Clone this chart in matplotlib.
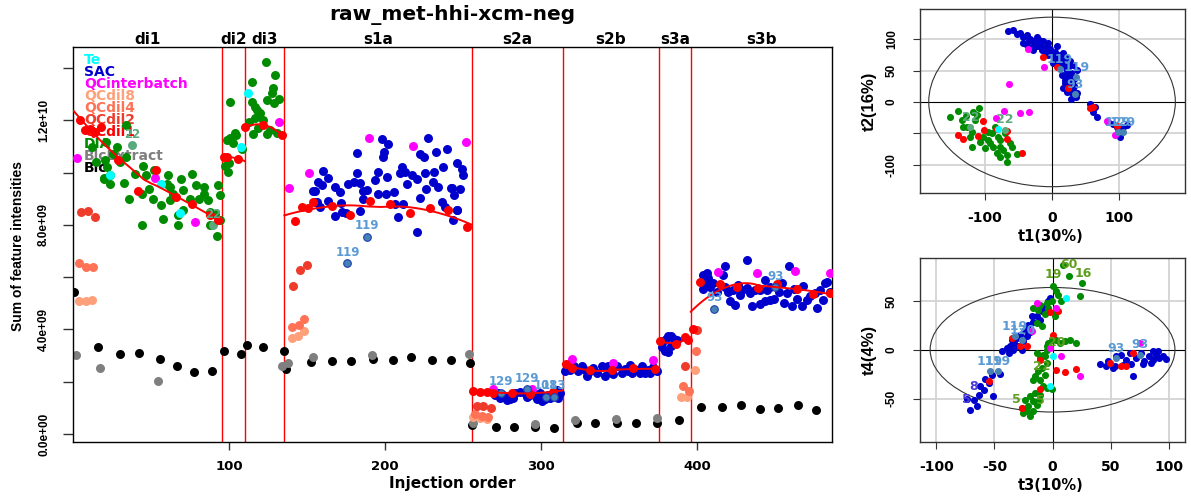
"""
Injection-order plot of summed feature intensities with two PCA score plots.
"""
import numpy as np
import matplotlib.pyplot as plt
from matplotlib.patches import Ellipse
from matplotlib.transforms import blended_transform_factory

plt.rcParams['font.family'] = ['DejaVu Sans']
plt.rcParams['font.weight'] = 'bold'
ROT_FONT = ['Liberation Sans', 'DejaVu Sans']

TITLE = 'raw_met-hhi-xcm-neg'

# batches (names and injection-order boundaries)
batch_names = ['di1', 'di2', 'di3', 's1a', 's2a', 's2b', 's3a', 's3b']
batch_edges = [0.5, 95.5, 110, 135.5, 255.5, 314, 375.5, 396, 486.5]

# sample classes, legend order
classes = ['Te', 'SAC', 'QCinterbatch', 'QCdil8', 'QCdil4', 'QCdil2', 'QCdil1', 'DIA', 'BlcExtract', 'Blc']
class_colors = ['#00FFFF', '#0000CD', '#FF00FF', '#FFA07A', '#FF7256', '#EE3B2B', '#FF0000', '#008B00', '#7F7F7F', '#000000']
labeled_color = '#4682B4'
labeled_text = '#5B9BD5'
dia_label_color = '#5AAA7D'

# ---- main plot: (injection order, sum of intensities in 1e9) ----
blc = [(0.6, 5.42), (16.2, 3.34), (30.1, 3.07), (42.5, 3.10), (55.8, 2.85), (66.5, 2.58), (77.6, 2.35),
       (89.3, 2.40), (96.6, 3.17), (107.5, 3.07), (111.8, 3.39), (122, 3.34), (135.4, 3.19), (136.3, 2.50),
       (152.3, 2.74), (166.2, 2.78), (178.2, 2.78), (192.5, 2.87), (204.9, 2.82), (216.5, 2.93), (230, 2.83),
       (242.1, 2.83), (254.5, 2.73), (255.6, 0.34), (270.9, 0.26), (282.7, 0.26), (296.4, 0.26), (308.3, 0.22),
       (322.9, 0.43), (334.8, 0.43), (348.7, 0.41), (360.7, 0.43), (374.6, 0.43), (388.7, 0.55), (402.3, 1.02),
       (416, 1.02), (428, 1.11), (440.4, 0.96), (452.1, 0.98), (465, 1.11), (476, 0.92)]
blc_extract = [(1.9, 3.01), (17.5, 2.53), (54.3, 2.03), (133.8, 2.59), (138, 2.70), (153.6, 2.94), (191.9, 3.02),
               (254, 3.06), (256.2, 0.43), (296.2, 0.36), (321.8, 0.55), (348.1, 0.57), (374.1, 0.60)]
dia = [(34.2, 11.84), (28, 10.98), (21.4, 11.17), (25.6, 10.73), (20.3, 10.47), (34.2, 10.6), (30, 10.41),
       (45, 10.25), (52, 10.11), (22, 10.2), (20, 9.77), (23.5, 9.58), (39.5, 9.96), (47, 9.9), (61, 9.9),
       (76, 9.96), (69, 9.77), (49, 9.39), (44, 9.2), (51, 9.0), (60, 9.58), (62, 9.45), (64, 9.2), (70.5, 9.32),
       (79, 9.51), (84, 9.45), (84, 9.2), (81, 9.0), (75, 9.0), (62, 8.94), (56.6, 8.75), (36, 9.0), (58, 8.24),
       (67, 8.37), (70.5, 8.56), (87.6, 8.5), (94, 8.17), (92, 7.56), (44, 7.98), (67, 7.98), (93, 9.51),
       (94, 9.13), (86.5, 8.94), (15, 10.4), (12, 11.0), (24, 9.9), (19.6, 9.8), (33, 9.6), (88, 8.0), (91, 8.4),
       (100.6, 12.71), (103.8, 11.52), (100.6, 11.33), (98.7, 11.25), (102.6, 11.14), (108.5, 10.91),
       (100, 10.37), (99.4, 10.03), (97.2, 10.24), (104.5, 11.45),
       (123.5, 14.24), (129.5, 13.73), (114.5, 13.47), (128.4, 13.26), (127.4, 13.04), (114.5, 12.72),
       (132.3, 12.81), (124.2, 12.79), (128.8, 12.66), (117.8, 12.40), (119.9, 12.28), (116.7, 12.08),
       (122, 12.02), (115.6, 11.48), (124.2, 11.48), (130.6, 11.53), (118.8, 11.70), (126.3, 11.64),
       (116.7, 12.53), (113, 11.95)]
dia_labeled = [(38, 11.05, '22'), (90, 7.98, '22')]
sac = [(197.9, 11.28), (202.1, 11.10), (227.8, 11.34), (181.8, 10.74), (199.4, 10.81), (198.5, 10.61),
       (222.4, 10.72), (225, 10.61), (232.7, 10.81), (239.5, 10.89), (246, 10.38), (249.2, 10.13),
       (250.2, 9.91), (160.5, 10.08), (182.3, 10.0), (195.7, 10.03), (210.7, 10.21), (212.8, 10.04),
       (209.6, 9.98), (217.1, 9.91), (220.3, 9.75), (225.7, 9.98), (231.4, 10.04), (237.4, 10.21),
       (201.5, 9.82), (193.6, 9.72), (157.3, 9.66), (163.7, 9.78), (159.4, 9.53), (155.1, 9.31), (168, 9.44),
       (171.2, 9.27), (176.5, 9.57), (180.1, 9.66), (184, 9.62), (186.1, 9.31), (188.3, 9.34), (195.7, 9.18),
       (200.7, 9.18), (205.8, 9.27), (214.3, 9.57), (226.3, 9.38), (231, 9.66), (234.2, 9.47), (242.7, 9.40),
       (248.1, 9.36), (244.2, 9.15), (222.4, 9.02), (236.3, 8.89), (186.1, 8.98), (171.6, 8.85),
       (163.7, 8.93), (156.6, 8.89), (158.3, 8.70), (206.4, 8.80), (211.8, 8.80), (238.5, 8.67), (246, 8.57),
       (184, 8.55), (168, 8.34), (172.2, 8.51), (175, 8.44), (208.6, 8.29), (243.8, 8.19), (220.3, 7.73),
       (246.4, 8.57), (242.1, 9.4), (154, 9.31), (155.1, 8.89),
       (270.5, 1.49), (273.7, 1.37), (276.9, 1.41), (280.2, 1.33), (283.4, 1.58), (286.6, 1.62), (289.8, 1.56),
       (293, 1.49), (296.2, 1.53), (298.3, 1.43), (300.5, 1.24), (302.6, 1.33), (304.7, 1.49), (307.9, 1.56),
       (310, 1.69), (312.2, 1.58), (278, 1.28), (282.3, 1.37), (297.2, 1.33), (301.5, 1.37), (305.8, 1.37),
       (311.1, 1.37), (272.7, 1.56), (290.8, 1.41), (299.4, 1.56), (275.9, 1.49),
       (315.5, 2.39), (316.5, 2.52), (320.8, 2.60), (323.9, 2.39), (328.2, 2.45), (329.3, 2.22), (333.6, 2.52),
       (335.7, 2.32), (338.9, 2.58), (341, 2.22), (344.3, 2.39), (348.5, 2.58), (351.7, 2.32), (353.9, 2.48),
       (357.1, 2.64), (358.1, 2.32), (361.3, 2.45), (364.6, 2.60), (366.7, 2.32), (368.8, 2.45), (371.6, 2.55),
       (374.2, 2.39), (318.6, 2.43), (326.1, 2.58), (331.4, 2.39), (343.2, 2.60), (346.4, 2.30), (356, 2.39),
       (363.5, 2.32), (369.9, 2.32),
       (377.4, 3.32), (379.5, 3.19), (381.6, 3.12), (383.2, 3.37), (381.6, 3.73), (383.2, 3.76), (380.2, 3.63),
       (378, 3.54), (387, 3.60), (385.3, 3.65),
       (404.1, 6.09), (406.2, 6.15), (407.3, 5.96), (405.8, 5.80), (403.7, 5.54), (408.4, 5.64), (410.5, 5.77),
       (418, 6.41), (416.9, 6.09), (421.2, 5.07), (424.4, 4.94), (431.9, 6.64), (420.1, 5.45), (423.3, 5.52),
       (428.7, 5.52), (431.9, 5.58), (434, 5.39), (435.1, 4.88), (437.2, 5.52), (440.4, 4.98), (443.6, 5.07),
       (446.8, 5.13), (449.4, 5.16), (443.6, 5.90), (454.3, 5.77), (455.4, 5.01), (457.5, 5.39), (458.6, 6.41),
       (460.7, 4.90), (463.9, 5.16), (468.2, 5.67), (467.1, 4.88), (470.3, 5.11), (472.5, 5.26), (475.7, 5.41),
       (476.7, 4.81), (478.9, 5.52), (481, 5.13), (482.1, 5.77), (483.1, 5.83), (412.6, 5.45), (440.4, 5.52),
       (444.7, 5.49), (427.6, 5.32), (452.2, 5.45), (418, 5.62), (426, 5.70), (447, 5.62), (462, 5.55),
       (485, 5.45)]
sac_labeled = [(188.3, 7.55, '119'), (175.9, 6.53, '119'), (274.2, 1.58, '129'), (290.8, 1.71, '129'),
               (303, 1.43, '108'), (308.5, 1.41, '113'), (410.9, 4.78, '93'), (450, 5.61, '93')]
qc_interbatch = [(2.3, 10.55), (52.5, 9.8), (78.4, 8.12), (132.3, 11.94), (138.7, 9.4), (151.5, 9.98),
                 (190, 11.34), (217.7, 11.02), (251.9, 11.16), (269.5, 1.71), (294, 1.71), (319.7, 2.86),
                 (345.9, 2.71), (371.6, 2.81), (413.7, 6.18), (438.7, 6.15), (462.8, 6.24), (485.3, 6.17)]
te = [(23.6, 9.92), (56.6, 9.55), (68.3, 8.47), (107.7, 10.99), (112.3, 13.06)]
qc_dil2 = [(5.1, 8.5), (9.4, 8.52), (14.1, 8.31), (141.2, 5.67), (145.5, 6.28), (149.8, 6.46), (258.8, 1.07),
           (263.1, 1.05), (267.8, 1.01), (392.3, 2.58), (399.8, 3.96)]
qc_dil4 = [(4, 6.53), (8.3, 6.37), (13, 6.37), (140.6, 4.11), (144.9, 4.16), (148.1, 4.39), (257.7, 0.77),
           (262, 0.69), (266.3, 0.64), (390.8, 1.84), (395, 1.65), (399.4, 3.16)]
qc_dil8 = [(4, 5.08), (8.3, 5.08), (12, 5.13), (140.2, 3.66), (144, 3.75), (148, 3.93), (256.6, 0.64),
           (260.9, 0.60), (265.2, 0.56), (389.5, 1.43), (393.6, 1.40), (398.7, 2.45)]
qc_dil1 = [(4.3, 12.0), (7.5, 11.65), (10.7, 11.68), (13.9, 11.56), (18.2, 11.75), (29, 10.49), (41.7, 9.3),
           (53.4, 10.11), (65.8, 9.07), (76.5, 8.79), (87.6, 8.37), (93, 8.17),
           (96.5, 10.6), (99, 10.6), (106, 10.53),
           (110.3, 11.73), (122, 11.83), (133.8, 11.45),
           (142.3, 8.15), (146.6, 8.70), (150.9, 8.66), (154.1, 8.89), (165.8, 8.74), (177.6, 8.37),
           (190.4, 8.93), (203.2, 8.80), (216, 8.44), (228.9, 8.64), (240.6, 8.57), (252.8, 7.93),
           (256.6, 1.66), (260.9, 1.62), (265.2, 1.62), (269.5, 1.56), (281.2, 1.58), (293, 1.53), (307.5, 1.62),
           (316, 2.68), (319.7, 2.52), (331.4, 2.43), (345.3, 2.43), (359.2, 2.52), (373.1, 2.48),
           (376.5, 3.54), (386.6, 3.45), (392.3, 3.70), (394.5, 3.58),
           (397.2, 4.01), (402, 5.83), (414.7, 5.73), (425.8, 5.64), (439.3, 5.6), (451, 5.73), (463.9, 5.54),
           (474.6, 5.35), (485, 5.41)]

# ---- PCA scores: t1/t2 (top) ----
pc12_sac = [(-65.2, 113.3), (-57.8, 114.9), (-47.8, 109.5), (-42.8, 103.2), (-37.9, 106.9), (-32.9, 100),
            (-27.9, 96.3), (-22.9, 103.2), (-18, 93.6), (-13, 96.3), (-8, 88.3), (-15.5, 83), (-27.9, 83),
            (-37.9, 90.9), (6.9, 88.3), (-0.5, 77.6), (11.9, 75), (16.9, 77.6), (21.9, 69.7), (26.8, 64.4),
            (31.8, 59), (36.8, 51.1), (19.4, 56.4), (14.4, 43.1), (19.4, 35.1), (24.3, 27.1), (16.9, 21.8),
            (21.9, 16.5), (29.3, 13.9), (35.8, 7.5), (31.8, 21.8), (11.9, 53.7), (2, 61.7), (-5.5, 75),
            (-22.9, 88.3), (-42.8, 93.6), (-52, 108), (-25, 92), (-10, 80), (5, 70), (26, 40), (30, 30), (9, 60),
            (-20, 98), (-3, 84), (15, 66), (23, 50), (33, 25), (28, 5), (20, 30),
            (-35, 98), (-30, 88), (-16, 88), (-6, 94), (4, 80), (10, 68), (18, 62), (25, 58), (28, 46),
            (21, 40), (33, 36), (26, 20), (37, 14),
            (56.7, -3.2), (59.2, -10.1), (61.7, -15.4), (66.6, -23.4), (64.1, -8.5), (84, -31.3), (91.5, -35.1),
            (99, -47.3), (106.4, -39.3), (101.4, -55.3), (111.4, -36.6), (96.5, -39.3)]
pc12_dia = [(-152.3, -24.4), (-139.8, -13.8), (-128.4, -22.3), (-117.4, -15.4), (-108.5, -10.1), (-115, -28.7),
            (-126.4, -39.3), (-119.9, -47.3), (-122.4, -55.3), (-119.9, -72.3), (-107.5, -63.2), (-100, -73.9),
            (-95.1, -60.6), (-90.1, -50), (-85.1, -39.3), (-80.1, -55.3), (-77.7, -71.2), (-82.6, -81.8),
            (-72.7, -76.5), (-67.7, -84.5), (-60.2, -71.2), (-62.7, -64.8), (-52.8, -82.9), (-67.7, -95.1),
            (-77.7, -87.2), (-92.6, -65.9), (-87.6, -71.2), (-102.5, -55.3), (-95.1, -47.3), (-112.5, -20.7),
            (-134.8, -28.7), (-132.4, -39.3), (-77.7, -60.6), (-70.2, -50)]
pc12_qc = [(-13, 72.3), (6.9, 56.4), (24.3, 21.8), (56.7, -10.1), (61.7, -7.4), (96.5, -38.2), (-103.5, -29.7),
           (-139.8, -52.6), (-132.4, -59.5), (-110, -54.2), (-101, -44.6), (-67.7, -45.7), (-67.7, -59.5),
           (-45.3, -81.8), (-82.6, -43.6)]
pc12_interbatch = [(-35.4, 84), (-11.5, 55.3), (-63.7, 28.7), (-71.7, -14.3), (-83.6, -26), (-47.8, -18),
                   (-33.9, -15.4), (81.5, -29.7), (94, -52.6)]
pc12_te = [(-80.1, -43.6)]
pc12_labeled = [(12, 52, '119'), (36, 40, '119'), (35, 13, '93'), (98, -48, '129'), (106, -48, '129')]
pc12_dia_labeled = [(-122, -40, '22'), (-70, -44, '22')]

# ---- PCA scores: t3/t4 (bottom) ----
pc34_sac = [(-70.9, -62.1), (-65.1, -58), (-68, -51.2), (-73.7, -50.5), (-63.7, -46.1), (-59.4, -41),
            (-62.3, -37.5), (-55.1, -34.1), (-58, -30), (-50.9, -47.1), (-52.3, -25.6), (-45.1, -24.6),
            (-43.7, -1.7), (-39.4, 1.7), (-37.1, -3.4), (-35.1, 10.2), (-33.1, 6.8), (-30.9, 11.9), (-28, 15.4),
            (-29.4, 3.4), (-25.1, 8.5), (-22.3, 13.7), (-19.4, 17.7), (-20.9, 25.6), (-16.6, 28), (-23.7, 20.5),
            (-13.7, 34.1), (-9.4, 39.2), (-6.6, 44.4), (-3.7, 49.5), (-2.3, 52.9), (-10.9, 30.7), (-18, 34.1),
            (-33.7, 0), (-26.6, 0), (-36.6, 4.1),
            (40.6, -14.3), (47.7, -11.9), (52, -18.8), (54.9, -6.8), (59.1, -5.1), (63.4, -10.2), (66.3, -3.4),
            (69.1, -26.6), (72, -8.5), (76.3, -3.4), (79.1, -11.9), (83.4, -6.8), (86.3, -1.7), (89.1, -5.1),
            (92, -8.5), (94.9, -6.8), (97.7, -9.6), (84.9, -13.7), (60.6, -15.4), (67.7, -14.3), (77.7, -14.3),
            (53.4, -17.1), (46.3, -17.1), (86.3, -10.2), (90.6, -1.7)]
pc34_dia = [(9.1, 87), (14.3, 75.8), (25.7, 68.3), (23.4, 55.3), (0, 64.8), (3.4, 59.7), (4.9, 56.3), (7.7, 49.5),
            (-0.9, 49.5), (-5.1, 47.8), (-10.9, 46.1), (-16.6, 42.7), (-12.3, 40.3), (-3.7, 42.7), (3.4, 41),
            (2, 34.8), (-6.6, 36.9), (-13.7, 27.3), (-9.4, 24.6), (-3.7, 6.8), (-0.9, 10.2), (3.4, 10.2),
            (6.3, 6.8), (10.6, 8.5), (14.9, 10.2), (20.6, 6.8), (-5.1, 0), (-8.6, -5.1), (-10.9, -8.5),
            (-6.6, -6.8), (-13.7, -3.4), (-5.1, -13.7), (-9.4, -18.8), (-12.3, -22.2), (-15.1, -27.3),
            (-6.6, -25.6), (-10.9, -30.7), (-16.6, -30.7), (-8.6, -37.5), (-5.1, -39.2), (-0.9, -40.3),
            (-15.1, -44.4), (-10.9, -46.1), (-19.4, -47.8), (-23.7, -51.9), (-16.6, -52.9), (-13.7, -56.3),
            (-20.9, -57.3), (-26.6, -59.7), (-22.3, -63.1), (-16.6, -63.1), (-19.4, -67.6), (-25.1, -64.8),
            (-11.4, -51.2), (-5.1, 3.4)]
pc34_qc = [(-35.1, 11.9), (-28, 4.1), (-22.3, 4.1), (-54.3, -32.4), (0, 15.4), (-10.9, -10.9), (-2.3, 38.2),
           (4.9, 39.2), (3.4, -21.2), (10.6, -23.2), (20.6, -19.8), (49.1, -13.7), (69.1, -3.4), (63.4, -16.4),
           (59.1, -17.1), (-26.6, -59.7), (-10.9, -40.3)]
pc34_interbatch = [(-13.7, 47.8), (3.4, 42.7), (-18, 18.8), (-2.3, 1.7), (7.7, -6.8), (23.4, -27.3), (74.9, 6.8)]
pc34_te = [(12, 52.9), (-2.3, -37.5), (0.6, -6.8)]
pc34_labeled = [(-32.3, 13.7, '119'), (-26, 10.2, '120'), (-54, -22.2, '119'), (-47, -22.2, '119'),
                (54.9, -8.5, '93'), (74.9, -5.1, '93')]
pc34_green_text = [(0.6, 76.8, '19'), (14.3, 87, '60'), (26.3, 78.5, '16'), (3.4, 7.5, '20'),
                   (-9.4, -17.1, '22'), (-30.9, -51.2, '5'), (-10.9, -51.9, '5')]
pc34_blue_text = [(-68, -37.5, '8'), (-74.3, -50.5, '5')]

# Hotelling ellipse half-axes
ellipse_12 = (184, 135)
ellipse_34 = (105.3, 63.8)
pca_axis_labels = [('t1(30%)', 't2(16%)'), ('t3(10%)', 't4(4%)')]


def xy(points):
    a = np.array([p[:2] for p in points], dtype=float)
    return a[:, 0], a[:, 1]


def loess(x, y, xs, span=0.9):
    """local quadratic regression with tricube weights (like R loess)"""
    n = len(x)
    if n <= 4:
        return np.polyval(np.polyfit(x, y, min(2, n - 1)), xs)
    k = int(np.ceil(span * n))
    out = []
    for x0 in xs:
        d = np.abs(x - x0)
        h = max(np.sort(d)[k - 1], 1e-9) * 1.05
        w = np.clip(1 - (d / h) ** 3, 0, 1) ** 3
        A = np.vstack([np.ones(n), x - x0, (x - x0) ** 2]).T
        sw = np.sqrt(w)
        coef = np.linalg.lstsq(A * sw[:, None], y * sw, rcond=None)[0]
        out.append(coef[0])
    return np.array(out)


col = dict(zip(classes, class_colors))
fig = plt.figure(figsize=(11.91, 4.97), dpi=100)

# ================= main injection-order plot =================
ax = fig.add_axes([0.0613, 0.1107, 0.6373, 0.7947])
S = 42
layers = [(blc, 'Blc'), (blc_extract, 'BlcExtract'), (dia, 'DIA'), (sac, 'SAC'),
          (qc_dil8, 'QCdil8'), (qc_dil4, 'QCdil4'), (qc_dil2, 'QCdil2'),
          (qc_interbatch, 'QCinterbatch'), (te, 'Te'), (qc_dil1, 'QCdil1')]
for z, (pts, name) in enumerate(layers):
    x, y = xy(pts)
    ax.scatter(x, y, s=S, c=col[name], lw=0, zorder=2 + z * 0.1)

x, y = xy(dia_labeled)
ax.scatter(x, y, s=S, c=dia_label_color, lw=0, zorder=2.5)
for px, py, lab in dia_labeled:
    ax.annotate(lab, (px, py), xytext=(0, 8), textcoords='offset points', ha='center', va='center',
                color=dia_label_color, fontsize=8.5, zorder=5)
x, y = xy(sac_labeled)
ax.scatter(x, y, s=30, c=labeled_color, edgecolors='#1F3FB0', lw=0.8, zorder=3.5)
for px, py, lab in sac_labeled:
    ax.annotate(lab, (px, py), xytext=(0, 8), textcoords='offset points', ha='center', va='center',
                color=labeled_text, fontsize=8.5, zorder=5)

# loess of QC per batch
qx, qy = xy(qc_dil1)
for lo, hi in zip(batch_edges[:-1], batch_edges[1:]):
    sel = (qx > lo) & (qx < hi)
    xs = np.linspace(lo, hi, 120)
    ax.plot(xs, loess(qx[sel], qy[sel], xs), color='red', lw=1.4, zorder=4)

for e in batch_edges[1:-1]:
    ax.axvline(e, color='red', lw=1, zorder=1.5)

trans = blended_transform_factory(ax.transData, ax.transAxes)
for name, lo, hi in zip(batch_names, batch_edges[:-1], batch_edges[1:]):
    ax.text((lo + hi) / 2, 1.018, name, transform=trans, ha='center', va='center', fontsize=11)

for i, (name, c) in enumerate(zip(classes, class_colors)):
    ax.text(0.0145, 0.967 - i * 0.0304, name, transform=ax.transAxes, color=c, fontsize=10,
            ha='left', va='center', zorder=1)

ax.set_xlim(0, 486.5)
ax.set_ylim(-0.31, 14.81)
ax.set_xticks([100, 200, 300, 400])
ax.set_xticklabels(['100', '200', '300', '400'], fontsize=9.5)
ax.set_yticks(np.arange(0, 15, 2))
ax.set_yticklabels(['0.0e+00', '', '4.0e+09', '', '8.0e+09', '', '1.2e+10', ''],
                   rotation=90, va='center', family=ROT_FONT, fontsize=8.5, fontweight='bold')
ax.tick_params(axis='x', length=6, width=1, pad=7, color='#333333')
ax.tick_params(axis='y', length=7.5, width=1, pad=9, color='#333333')
for sp in ax.spines.values():
    sp.set_color('black')
    sp.set_linewidth(1)
ax.text(0.5, -0.106, 'Injection order', transform=ax.transAxes, ha='center', va='center', fontsize=11)
ax.text(-0.0725, 0.496, 'Sum of feature intensities', transform=ax.transAxes, rotation=90,
        ha='center', va='center', family=ROT_FONT, fontsize=10, fontweight='bold')
fig.text(0.380, 0.970, TITLE, ha='center', va='center', fontsize=14.5)

# ================= PCA score plots =================
pca_sets = [
    dict(rect=[0.7725, 0.6117, 0.2225, 0.3702], xlim=(-197, 198.5), ylim=(-145, 148),
         xt=[-100, 0, 100], yt=[-100, -50, 0, 50, 100], ytl=['-100', '', '0', '50', '100'],
         gx=[-100, 100], gy=[-100, -50, 50, 100],
         sac=pc12_sac, dia=pc12_dia, qc=pc12_qc, inter=pc12_interbatch, te=pc12_te,
         lab=pc12_labeled, dlab=pc12_dia_labeled, gtxt=[], btxt=[], ell=ellipse_12),
    dict(rect=[0.7725, 0.1107, 0.2225, 0.3702], xlim=(-114, 114), ylim=(-94.5, 94),
         xt=[-100, -50, 0, 50, 100], yt=[-50, 0, 50], ytl=['-50', '0', '50'],
         gx=[-100, -50, 50, 100], gy=[-50, 50],
         sac=pc34_sac, dia=pc34_dia, qc=pc34_qc, inter=pc34_interbatch, te=pc34_te,
         lab=pc34_labeled, dlab=[], gtxt=pc34_green_text, btxt=pc34_blue_text, ell=ellipse_34),
]
for (xl, yl), p in zip(pca_axis_labels, pca_sets):
    a = fig.add_axes(p['rect'])
    for g in p['gx']:
        a.axvline(g, color='#D3D3D3', lw=1.3, zorder=0)
    for g in p['gy']:
        a.axhline(g, color='#D3D3D3', lw=1.3, zorder=0)
    a.axvline(0, color='black', lw=0.8, zorder=0.5)
    a.axhline(0, color='black', lw=0.8, zorder=0.5)
    a.add_patch(Ellipse((0, 0), 2 * p['ell'][0], 2 * p['ell'][1], fill=False, ec='#333333', lw=0.8, zorder=1))
    s2 = 26
    for pts, c in [(p['sac'], col['SAC']), (p['dia'], col['DIA']), (p['qc'], col['QCdil1']),
                   (p['inter'], col['QCinterbatch']), (p['te'], col['Te'])]:
        x, y = xy(pts)
        a.scatter(x, y, s=s2, c=c, lw=0, zorder=2)
    x, y = xy(p['lab'])
    a.scatter(x, y, s=s2, c=labeled_color, lw=0, zorder=3)
    for px, py, lab in p['lab']:
        a.annotate(lab, (px, py), xytext=(0, 7), textcoords='offset points', ha='center', va='center',
                   color=labeled_text, fontsize=9, zorder=4)
    if p['dlab']:
        x, y = xy(p['dlab'])
        a.scatter(x, y, s=s2, c=dia_label_color, lw=0, zorder=3)
        for px, py, lab in p['dlab']:
            a.annotate(lab, (px, py), xytext=(0, 7), textcoords='offset points', ha='center', va='center',
                       color=dia_label_color, fontsize=9, zorder=4)
    for px, py, lab in p['gtxt']:
        a.text(px, py, lab, color='#5E9E1E', fontsize=9, ha='center', va='center', zorder=4)
    for px, py, lab in p['btxt']:
        a.text(px, py, lab, color='#4B3BD6', fontsize=9, ha='center', va='center', zorder=4)
    a.set_xlim(*p['xlim'])
    a.set_ylim(*p['ylim'])
    a.set_xticks(p['xt'])
    a.set_xticklabels([str(v) for v in p['xt']], fontsize=10)
    a.set_yticks(p['yt'])
    a.set_yticklabels(p['ytl'], rotation=90, va='center', family=ROT_FONT, fontsize=8.5, fontweight='bold')
    a.tick_params(axis='x', length=5, pad=8, color='#333333')
    a.tick_params(axis='y', length=5, pad=11, color='#333333')
    for sp in a.spines.values():
        sp.set_color('#333333')
        sp.set_linewidth(1)
    a.text(0.494, -0.236, xl, transform=a.transAxes, ha='center', va='center', fontsize=10.5)
    a.text(-0.19, 0.5, yl, transform=a.transAxes, rotation=90, ha='center', va='center',
           family=ROT_FONT, fontsize=12, fontweight='bold')

fig.savefig('out.png', dpi=100)
